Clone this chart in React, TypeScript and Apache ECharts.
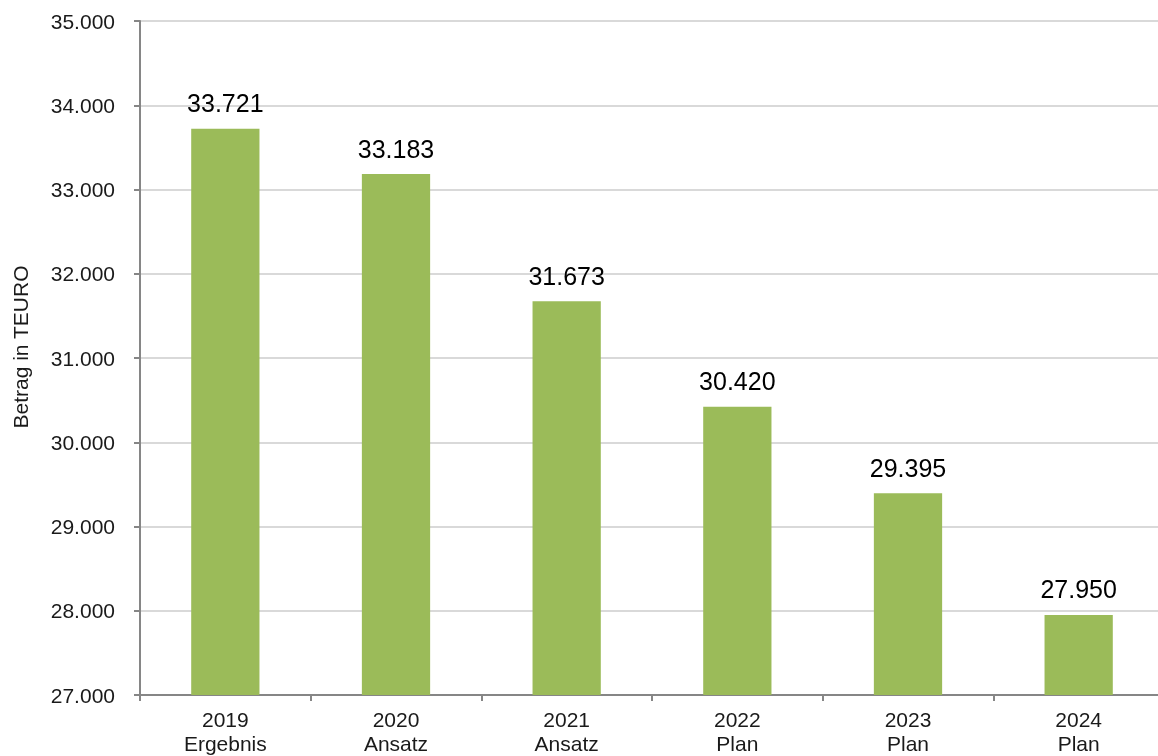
import React, { useEffect, useRef } from "react";
import * as echarts from "echarts";

const years = ["2019", "2020", "2021", "2022", "2023", "2024"];
const kinds = ["Ergebnis", "Ansatz", "Ansatz", "Plan", "Plan", "Plan"];
const values = [33721, 33183, 31673, 30420, 29395, 27950];
const yTicks = [27000, 28000, 29000, 30000, 31000, 32000, 33000, 34000, 35000];

const fmt = (v: number) => {
  const s = Math.round(v).toString();
  return s.replace(/\B(?=(\d{3})+(?!\d))/g, ".");
};

export default function App() {
  const ref = useRef<HTMLDivElement>(null);
  useEffect(() => {
    if (!ref.current) return;
    const chart = echarts.init(ref.current, undefined, { renderer: "svg" });
    const font = "Liberation Sans, Arial, sans-serif";
    chart.setOption({
      animation: false,
      textStyle: { fontFamily: font },
      grid: { left: 140, right: 0, top: 21, bottom: 61, containLabel: false },
      xAxis: {
        type: "category",
        data: years.map((y, i) => `${y}\n${kinds[i]}`),
        axisLine: { lineStyle: { color: "#868686", width: 2 } },
        axisTick: { show: true, length: 6, lineStyle: { color: "#868686", width: 2 } },
        axisLabel: { color: "#1a1a1a", fontSize: 21, lineHeight: 24, margin: 12, fontFamily: font },
      },
      yAxis: {
        type: "value",
        min: yTicks[0],
        max: yTicks[yTicks.length - 1],
        interval: 1000,
        axisLine: { show: true, lineStyle: { color: "#868686", width: 2 } },
        axisTick: { show: true, length: 6, lineStyle: { color: "#868686", width: 2 } },
        axisLabel: { color: "#1a1a1a", fontSize: 21, margin: 25, fontFamily: font, formatter: (v: number) => fmt(v) },
        splitLine: { show: true, lineStyle: { color: "#d9d9d9", width: 2 } },
      },
      graphic: [
        {
          type: "text",
          x: 20,
          y: 347,
          rotation: Math.PI / 2,
          style: {
            text: "Betrag in TEURO",
            fill: "#1a1a1a",
            fontSize: 21,
            fontFamily: font,
            align: "center",
            verticalAlign: "middle",
          },
        },
      ],
      series: [
        {
          type: "bar",
          data: values,
          barWidth: "40%",
          itemStyle: { color: "#9bbb59" },
          label: {
            show: true,
            position: "top",
            distance: 13,
            color: "#000",
            fontSize: 25,
            fontFamily: font,
            formatter: (p: any) => fmt(p.value),
          },
        },
      ],
    });
    return () => chart.dispose();
  }, []);
  return (
    <div style={{ position: "fixed", left: 0, top: 0, width: 1158, height: 756, overflow: "hidden" }}>
      <div ref={ref} style={{ position: "absolute", left: 0, top: 0, width: 1164, height: 756 }} />
    </div>
  );
}
